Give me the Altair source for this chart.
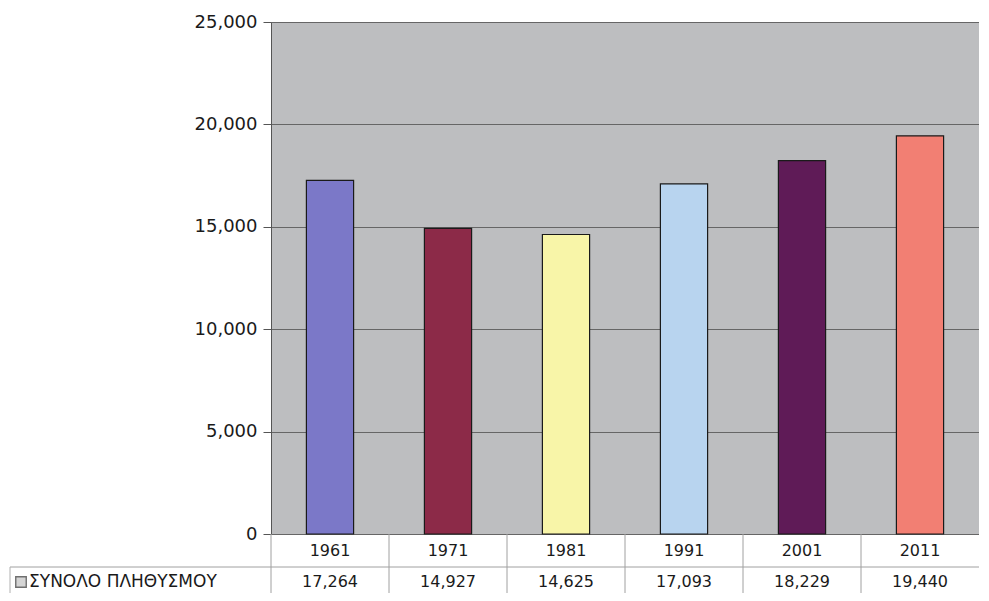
import altair as alt
import pandas as pd

years = ["1961", "1971", "1981", "1991", "2001", "2011"]
population = [17264, 14927, 14625, 17093, 18229, 19440]
bar_colors = ["#7b78c8", "#8c2a48", "#f8f5a8", "#b8d4ef", "#5f1b57", "#f27f73"]
row_label = ["ΣΥΝΟΛΟ ΠΛΗΘΥΣΜΟΥ"]
y_ticks = [0, 5000, 10000, 15000, 20000, 25000]

df = pd.DataFrame({"year": years, "pop": population, "color": bar_colors})
df["label"] = [f"{v:,}" for v in population]

W, H = 708, 512
FONT = "DejaVu Sans"
xscale = alt.Scale(domain=years, paddingInner=0, paddingOuter=0)
xenc = alt.X("year:N", scale=xscale, axis=None)

base = alt.Chart(df)

bars = base.mark_bar(
    width=alt.RelativeBandSize(0.4), stroke="#1a1a1a", strokeWidth=1.2
).encode(
    x=xenc,
    y=alt.Y(
        "pop:Q",
        scale=alt.Scale(domain=[0, 25000]),
        axis=alt.Axis(
            values=y_ticks, format=",.0f", title=None, grid=True,
            gridColor="#666666", gridWidth=1, domainColor="#555555",
            tickColor="#555555", tickSize=8, labelPadding=6,
            labelFontSize=18, labelFont=FONT, labelColor="#1a1a1a",
        ),
    ),
    color=alt.Color("color:N", scale=None),
)

year_text = base.mark_text(fontSize=16, font=FONT, color="#1a1a1a").encode(
    x=xenc, y=alt.value(H + 17), text="year:N"
)
value_text = base.mark_text(fontSize=16, font=FONT, color="#1a1a1a").encode(
    x=xenc, y=alt.value(H + 48), text="label:N"
)
dividers = base.mark_rule(color="#a0a0a0", strokeWidth=1).encode(
    x=alt.X("year:N", scale=xscale, bandPosition=0, axis=None),
    y=alt.value(H),
    y2=alt.value(H + 62),
)

lab = alt.Chart(pd.DataFrame({"t": row_label}))
hline = lab.mark_rule(color="#a0a0a0", strokeWidth=1).encode(
    x=alt.value(-261), x2=alt.value(W), y=alt.value(H + 33)
)
vline = lab.mark_rule(color="#b0b0b0", strokeWidth=1).encode(
    x=alt.value(-261), y=alt.value(H + 33), y2=alt.value(H + 62)
)
square = lab.mark_square(size=110, fill="#c4c4c4", stroke="#333333", strokeWidth=1.4).encode(
    x=alt.value(-250), y=alt.value(H + 48)
)
label_text = lab.mark_text(fontSize=17, font=FONT, color="#1a1a1a", align="left").encode(
    x=alt.value(-242), y=alt.value(H + 48), text="t:N"
)

chart = alt.layer(
    bars, dividers, hline, vline, year_text, value_text, square, label_text
).properties(
    width=W,
    height=H,
    padding={"left": 263, "top": 14, "right": 0, "bottom": 59},
    autosize=alt.AutoSizeParams(type="none"),
    background="#ffffff",
).configure_view(
    fill="#bdbec0", stroke=None
)

chart.save("out.html", embed_options={"renderer": "svg", "actions": False})
